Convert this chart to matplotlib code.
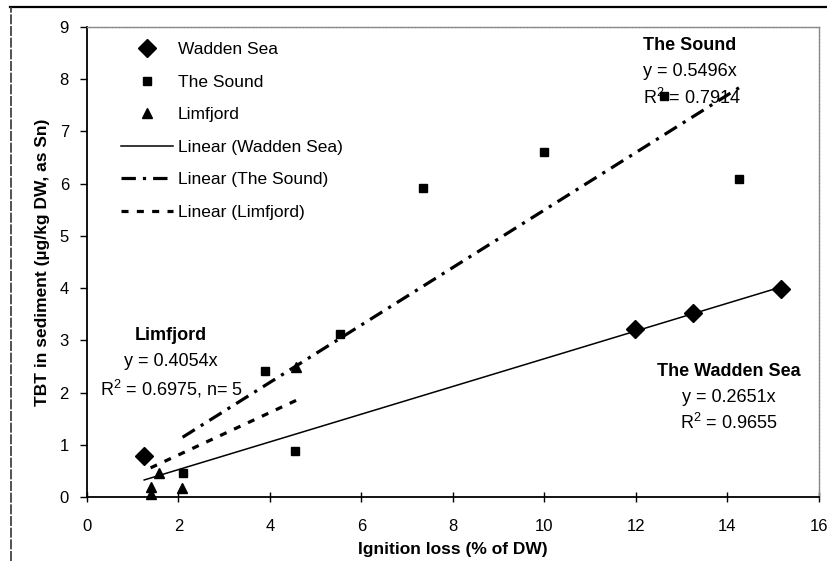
import matplotlib
matplotlib.use("Agg")
import matplotlib.pyplot as plt
from matplotlib.lines import Line2D
import numpy as np

plt.rcParams["font.family"] = ["Liberation Sans", "DejaVu Sans"]
plt.rcParams["mathtext.fontset"] = "custom"
plt.rcParams["mathtext.rm"] = "Liberation Sans"

# Ignition loss (% of DW) and TBT (ug/kg DW, as Sn) per site
wadden_x = [1.25, 11.98, 13.25, 15.18]
wadden_y = [0.79, 3.21, 3.52, 3.98]

sound_x = [2.09, 3.88, 4.55, 5.53, 7.35, 10.0, 12.62, 14.25]
sound_y = [0.47, 2.42, 0.89, 3.12, 5.91, 6.61, 7.67, 6.08]

limfjord_x = [1.39, 1.39, 1.57, 2.07, 4.57]
limfjord_y = [0.19, 0.06, 0.46, 0.17, 2.49]

# Regression slopes (forced through origin) and fit quality
wadden_slope, wadden_r2 = 0.2651, 0.9655
sound_slope, sound_r2 = 0.5496, 0.7914
limfjord_slope, limfjord_r2, limfjord_n = 0.4054, 0.6975, 5

x_ticks = [0, 2, 4, 6, 8, 10, 12, 14, 16]
y_ticks = [0, 1, 2, 3, 4, 5, 6, 7, 8, 9]

fig = plt.figure(figsize=(8.28, 5.61), dpi=100)
ax = fig.add_axes([87 / 828, 1 - 497.3 / 561, 732 / 828, 470.6 / 561])

# scatter points
ax.plot(wadden_x, wadden_y, linestyle="none", marker="D", ms=9.5,
        color="black", label="Wadden Sea", clip_on=False, zorder=4)
ax.plot(sound_x, sound_y, linestyle="none", marker="s", ms=6,
        color="black", label="The Sound", clip_on=False, zorder=4)
ax.plot(limfjord_x, limfjord_y, linestyle="none", marker="^", ms=7,
        color="black", label="Limfjord", clip_on=False, zorder=4)

# linear trend lines through the origin
def trend(xs, slope):
    xr = np.array([min(xs), max(xs)])
    return xr, slope * xr

tx, ty = trend(wadden_x, wadden_slope)
ax.plot(tx, ty, color="black", lw=1.1, label="Linear (Wadden Sea)", zorder=3)
tx, ty = trend(sound_x, sound_slope)
ax.plot(tx, ty, color="black", lw=2.3, linestyle=(0, (4.5, 2.2, 1.0, 2.2)),
        label="Linear (The Sound)", zorder=3)
tx, ty = trend(limfjord_x, limfjord_slope)
ax.plot(tx, ty, color="black", lw=2.3, linestyle=(0, (2.2, 2.6)),
        label="Linear (Limfjord)", zorder=3)

ax.set_xlim(0, 16)
ax.set_ylim(0, 9)
ax.set_xticks(x_ticks)
ax.set_yticks(y_ticks)
ax.tick_params(axis="x", direction="inout", length=7, width=1, pad=12,
               labelsize=12)
ax.tick_params(axis="y", direction="out", length=5, width=1, pad=8,
               labelsize=12)

for side in ("left", "bottom"):
    ax.spines[side].set_color("black")
    ax.spines[side].set_linewidth(1.3)
for side in ("top", "right"):
    ax.spines[side].set_color("#8a8a8a")
    ax.spines[side].set_linewidth(1.0)
    ax.spines[side].set_linestyle((0, (2, 0.6)))

ax.set_xlabel("Ignition loss (% of DW)", fontsize=12.5, fontweight="bold",
              labelpad=6)
ax.set_ylabel("TBT in sediment (\u00b5g/kg DW, as Sn)", fontsize=12.5,
              fontweight="bold", labelpad=7)

leg = ax.legend(loc="upper left", bbox_to_anchor=(0.047, 0.967),
                frameon=False, fontsize=12.5, handlelength=3.0,
                handletextpad=0.25, labelspacing=1.0, borderpad=0,
                borderaxespad=0)

# regression annotations
ax.text(12.15, 8.65, "The Sound", fontsize=13, fontweight="bold",
        ha="left", va="center")
ax.text(12.15, 8.15, "y = %.4fx" % sound_slope, fontsize=13,
        ha="left", va="center")
ax.text(12.15, 7.64, "R$^2$ = %.4f" % sound_r2, fontsize=13,
        ha="left", va="center")

ax.text(1.84, 3.10, "Limfjord", fontsize=13, fontweight="bold",
        ha="center", va="center")
ax.text(1.84, 2.59, "y = %.4fx" % limfjord_slope, fontsize=13,
        ha="center", va="center")
ax.text(1.84, 2.08, "R$^2$ = %.4f, n= %d" % (limfjord_r2, limfjord_n),
        fontsize=13, ha="center", va="center")

ax.text(14.03, 2.40, "The Wadden Sea", fontsize=13, fontweight="bold",
        ha="center", va="center")
ax.text(14.03, 1.90, "y = %.4fx" % wadden_slope, fontsize=13,
        ha="center", va="center")
ax.text(14.03, 1.42, "R$^2$ = %.4f" % wadden_r2, fontsize=13,
        ha="center", va="center")

# chart area border
fig.add_artist(Line2D([10 / 828, 1.0], [1 - 7 / 561, 1 - 7 / 561],
                      transform=fig.transFigure, color="black", lw=1.6))
fig.add_artist(Line2D([11 / 828, 11 / 828], [0.0, 1 - 7 / 561],
                      transform=fig.transFigure, color="#333333", lw=1.2,
                      linestyle=(0, (6, 1))))

fig.savefig("out.png", dpi=100)
